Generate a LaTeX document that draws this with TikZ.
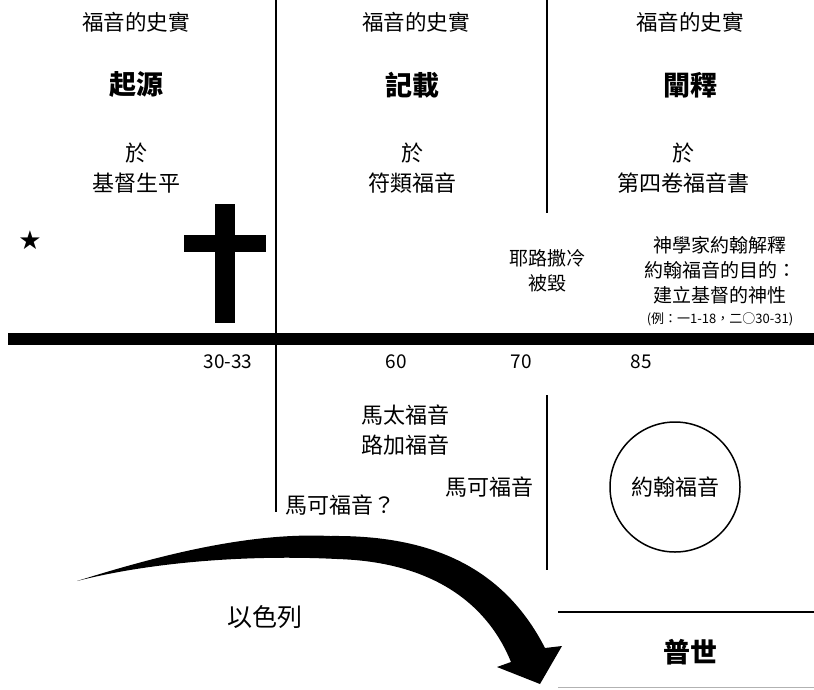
\documentclass[tikz,border=0pt]{standalone}
\usepackage{fontspec}
\setmainfont{Noto Sans CJK TC}
\newfontfamily\symfont{DejaVu Sans}
\usetikzlibrary{positioning}
\begin{document}
\begin{tikzpicture}[x=1pt, y=-1pt, every node/.style={align=center, inner sep=0pt},
  head/.style={font=\fontsize{21.5}{24}\selectfont},
  title/.style={font=\fontsize{27}{30}\selectfont\bfseries},
  body/.style={font=\fontsize{22}{30}\selectfont},
  note/.style={font=\fontsize{19}{25}\selectfont},
  year/.style={font=\fontsize{19}{22}\selectfont},
  hand/.style={font=\fontsize{22}{30}\selectfont}]
\useasboundingbox (0,0) rectangle (814,689);

% three columns
\node (h1) [head] at (136,22) {福音的史實};
\node (h2) [head] at (416,22) {福音的史實};
\node (h3) [head] at (690,22) {福音的史實};
\node (origin) [title] at (136,85) {起源};
\node (record) [title] at (412,85) {記載};
\node (interp) [title] at (690,85) {闡釋};
\node (life) [body] at (136,168) {於\\基督生平};
\node (synop) [body] at (412,168) {於\\符類福音};
\node (fourth) [body] at (683,168) {於\\第四卷福音書};

% dividers
\draw[line width=2pt] (276,0) -- (276,512);
\draw[line width=2pt] (547,0) -- (547,213);
\draw[line width=2pt] (547,395) -- (547,570);

% star and cross
\node (star) [font=\symfont\fontsize{26}{26}\selectfont] at (30,240) {★};
\fill (215,204) rectangle (235,323);
\fill (184,235) rectangle (266,252);

% timeline
\draw[line width=12pt] (8,339) -- (814,339);
\node (y30) [year] at (228,362) {30-33};
\node (y60) [year] at (396,362) {60};
\node (y70) [year] at (521,362) {70};
\node (y85) [year] at (641,362) {85};

\node (fall) [note] at (547,271) {耶路撒冷\\被毀};
\node (theol) [note] at (720,270) {神學家約翰解釋\\約翰福音的目的：\\建立基督的神性};
\node (ex) [font=\fontsize{13}{15}\selectfont, below=8pt of theol] {(例：一1-18，二○30-31)};

% gospels
\node (mtlk) [hand] at (405,430) {馬太福音\\路加福音};
\node (mk) [hand] at (489,487) {馬可福音};
\node (mkq) [hand] at (340,505) {馬可福音？};
\node (john) [draw, circle, line width=1.5pt, minimum size=130pt, hand] at (675,487) {約翰福音};

% israel to the world
\fill (77,581) .. controls (160,555) and (250,532) .. (330,536)
  .. controls (420,535) and (500,560) .. (545,648)
  -- (562,646) -- (540,684) -- (497,667) -- (511,662)
  .. controls (490,610) and (440,562) .. (337,559)
  .. controls (260,555) and (160,560) .. cycle;
\node (israel) [font=\fontsize{25}{30}\selectfont] at (265,617) {以色列};
\draw[line width=1.5pt] (558,612) -- (814,612);
\draw[gray!60, line width=1pt] (558,687) -- (814,687);
\node (world) [title] at (690,652) {普世};
\end{tikzpicture}
\end{document}
